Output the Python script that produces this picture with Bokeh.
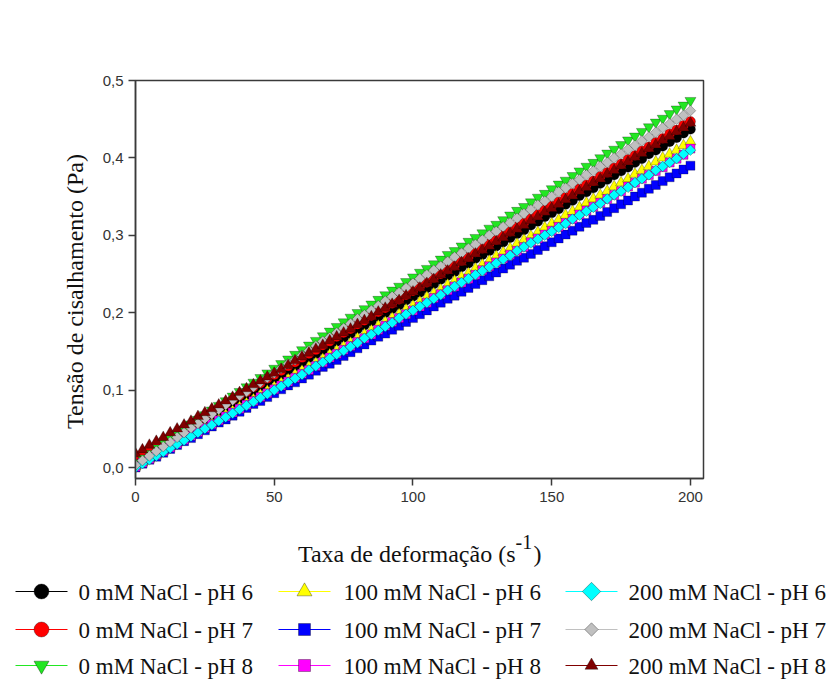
import math

from bokeh.core.properties import value
from bokeh.embed import file_html
from bokeh.layouts import column
from bokeh.models import CustomJSTickFormatter, FixedTicker, Range1d
from bokeh.plotting import figure
from bokeh.resources import INLINE

# Shear rate (1/s), one reading every 2.5 s^-1
shear_rate = [
    0.0, 2.5, 5.0, 7.5, 10.0, 12.5, 15.0, 17.5, 20.0, 22.5,
    25.0, 27.5, 30.0, 32.5, 35.0, 37.5, 40.0, 42.5, 45.0, 47.5,
    50.0, 52.5, 55.0, 57.5, 60.0, 62.5, 65.0, 67.5, 70.0, 72.5,
    75.0, 77.5, 80.0, 82.5, 85.0, 87.5, 90.0, 92.5, 95.0, 97.5,
    100.0, 102.5, 105.0, 107.5, 110.0, 112.5, 115.0, 117.5, 120.0, 122.5,
    125.0, 127.5, 130.0, 132.5, 135.0, 137.5, 140.0, 142.5, 145.0, 147.5,
    150.0, 152.5, 155.0, 157.5, 160.0, 162.5, 165.0, 167.5, 170.0, 172.5,
    175.0, 177.5, 180.0, 182.5, 185.0, 187.5, 190.0, 192.5, 195.0, 197.5,
    200.0,
]

# Shear stress (Pa) for each NaCl concentration / pH
stress_0mM_ph6 = [
    0.010, 0.015, 0.021, 0.026, 0.031, 0.037, 0.042, 0.047, 0.052, 0.058,
    0.063, 0.068, 0.073, 0.079, 0.084, 0.089, 0.094, 0.099, 0.105, 0.110,
    0.115, 0.120, 0.126, 0.131, 0.136, 0.142, 0.147, 0.152, 0.157, 0.163,
    0.168, 0.173, 0.179, 0.184, 0.189, 0.195, 0.200, 0.205, 0.210, 0.216,
    0.221, 0.226, 0.232, 0.237, 0.243, 0.248, 0.253, 0.259, 0.264, 0.270,
    0.275, 0.280, 0.286, 0.291, 0.297, 0.302, 0.307, 0.313, 0.318, 0.324,
    0.329, 0.334, 0.340, 0.345, 0.351, 0.356, 0.361, 0.367, 0.372, 0.378,
    0.383, 0.388, 0.394, 0.399, 0.405, 0.410, 0.415, 0.421, 0.426, 0.432,
    0.437,
]
stress_0mM_ph7 = [
    0.012, 0.017, 0.023, 0.028, 0.034, 0.039, 0.044, 0.050, 0.055, 0.061,
    0.066, 0.071, 0.077, 0.082, 0.088, 0.093, 0.098, 0.104, 0.109, 0.115,
    0.120, 0.125, 0.131, 0.136, 0.142, 0.147, 0.152, 0.158, 0.163, 0.169,
    0.174, 0.179, 0.185, 0.190, 0.196, 0.201, 0.206, 0.212, 0.217, 0.223,
    0.228, 0.234, 0.239, 0.245, 0.250, 0.256, 0.261, 0.267, 0.272, 0.278,
    0.283, 0.289, 0.294, 0.300, 0.305, 0.311, 0.316, 0.322, 0.327, 0.333,
    0.338, 0.343, 0.349, 0.354, 0.360, 0.365, 0.370, 0.376, 0.381, 0.387,
    0.392, 0.398, 0.403, 0.409, 0.414, 0.420, 0.425, 0.431, 0.436, 0.442,
    0.447,
]
stress_0mM_ph8 = [
    0.006, 0.012, 0.018, 0.025, 0.031, 0.037, 0.043, 0.049, 0.056, 0.062,
    0.068, 0.074, 0.080, 0.086, 0.092, 0.098, 0.104, 0.110, 0.116, 0.122,
    0.128, 0.134, 0.140, 0.146, 0.152, 0.158, 0.164, 0.170, 0.176, 0.182,
    0.188, 0.194, 0.200, 0.205, 0.211, 0.217, 0.223, 0.229, 0.234, 0.240,
    0.246, 0.252, 0.257, 0.263, 0.269, 0.275, 0.280, 0.286, 0.292, 0.297,
    0.303, 0.309, 0.314, 0.320, 0.326, 0.332, 0.337, 0.343, 0.349, 0.354,
    0.360, 0.366, 0.371, 0.377, 0.383, 0.389, 0.394, 0.400, 0.406, 0.411,
    0.417, 0.423, 0.428, 0.434, 0.440, 0.446, 0.451, 0.457, 0.463, 0.468,
    0.474,
]
stress_100mM_ph6 = [
    0.001, 0.006, 0.011, 0.016, 0.021, 0.027, 0.032, 0.037, 0.042, 0.047,
    0.052, 0.057, 0.062, 0.068, 0.073, 0.078, 0.083, 0.088, 0.094, 0.099,
    0.104, 0.109, 0.114, 0.120, 0.125, 0.130, 0.135, 0.140, 0.146, 0.151,
    0.156, 0.161, 0.167, 0.172, 0.177, 0.183, 0.188, 0.193, 0.198, 0.204,
    0.209, 0.214, 0.220, 0.225, 0.230, 0.236, 0.241, 0.246, 0.251, 0.257,
    0.262, 0.267, 0.273, 0.278, 0.283, 0.289, 0.294, 0.299, 0.304, 0.310,
    0.315, 0.320, 0.326, 0.331, 0.336, 0.342, 0.347, 0.352, 0.357, 0.363,
    0.368, 0.373, 0.379, 0.384, 0.389, 0.395, 0.400, 0.405, 0.410, 0.416,
    0.421,
]
stress_100mM_ph7 = [
    0.000, 0.005, 0.010, 0.014, 0.019, 0.024, 0.029, 0.034, 0.038, 0.043,
    0.048, 0.053, 0.058, 0.062, 0.067, 0.072, 0.077, 0.082, 0.086, 0.091,
    0.096, 0.101, 0.106, 0.110, 0.115, 0.120, 0.125, 0.130, 0.134, 0.139,
    0.144, 0.149, 0.154, 0.159, 0.164, 0.169, 0.173, 0.178, 0.183, 0.188,
    0.193, 0.198, 0.203, 0.208, 0.213, 0.218, 0.222, 0.227, 0.232, 0.237,
    0.242, 0.247, 0.252, 0.257, 0.262, 0.267, 0.271, 0.276, 0.281, 0.286,
    0.291, 0.296, 0.301, 0.306, 0.311, 0.316, 0.320, 0.325, 0.330, 0.335,
    0.340, 0.345, 0.350, 0.355, 0.360, 0.365, 0.370, 0.375, 0.380, 0.385,
    0.390,
]
stress_100mM_ph8 = [
    0.001, 0.006, 0.011, 0.016, 0.021, 0.026, 0.031, 0.036, 0.041, 0.046,
    0.051, 0.056, 0.061, 0.066, 0.071, 0.076, 0.081, 0.086, 0.091, 0.096,
    0.101, 0.106, 0.111, 0.116, 0.121, 0.126, 0.131, 0.136, 0.142, 0.147,
    0.152, 0.157, 0.162, 0.167, 0.172, 0.178, 0.183, 0.188, 0.193, 0.198,
    0.203, 0.208, 0.213, 0.219, 0.224, 0.229, 0.234, 0.239, 0.244, 0.249,
    0.255, 0.260, 0.265, 0.270, 0.275, 0.280, 0.285, 0.291, 0.296, 0.301,
    0.306, 0.311, 0.316, 0.321, 0.327, 0.332, 0.337, 0.342, 0.347, 0.352,
    0.357, 0.363, 0.368, 0.373, 0.378, 0.383, 0.388, 0.394, 0.399, 0.404,
    0.412,
]
stress_200mM_ph6 = [
    0.000, 0.005, 0.010, 0.015, 0.020, 0.025, 0.030, 0.035, 0.040, 0.045,
    0.050, 0.055, 0.060, 0.065, 0.070, 0.075, 0.080, 0.085, 0.090, 0.095,
    0.100, 0.105, 0.110, 0.115, 0.120, 0.126, 0.131, 0.136, 0.141, 0.146,
    0.151, 0.156, 0.161, 0.167, 0.172, 0.177, 0.182, 0.187, 0.193, 0.198,
    0.203, 0.208, 0.213, 0.218, 0.223, 0.229, 0.234, 0.239, 0.244, 0.249,
    0.254, 0.259, 0.264, 0.269, 0.274, 0.280, 0.285, 0.290, 0.295, 0.300,
    0.305, 0.310, 0.315, 0.321, 0.326, 0.331, 0.336, 0.341, 0.347, 0.352,
    0.357, 0.362, 0.368, 0.373, 0.378, 0.384, 0.389, 0.394, 0.399, 0.405,
    0.410,
]
stress_200mM_ph7 = [
    0.003, 0.009, 0.015, 0.021, 0.027, 0.033, 0.039, 0.045, 0.051, 0.057,
    0.063, 0.069, 0.075, 0.081, 0.087, 0.093, 0.098, 0.104, 0.110, 0.116,
    0.122, 0.128, 0.134, 0.139, 0.145, 0.151, 0.157, 0.163, 0.168, 0.174,
    0.180, 0.186, 0.192, 0.197, 0.203, 0.209, 0.215, 0.221, 0.226, 0.232,
    0.238, 0.244, 0.249, 0.255, 0.260, 0.266, 0.272, 0.277, 0.283, 0.288,
    0.294, 0.300, 0.305, 0.311, 0.316, 0.322, 0.328, 0.333, 0.339, 0.344,
    0.350, 0.356, 0.361, 0.367, 0.372, 0.378, 0.383, 0.389, 0.394, 0.400,
    0.405, 0.411, 0.416, 0.422, 0.427, 0.433, 0.439, 0.444, 0.450, 0.455,
    0.461,
]
stress_200mM_ph8 = [
    0.018, 0.023, 0.029, 0.034, 0.039, 0.045, 0.050, 0.055, 0.060, 0.066,
    0.071, 0.076, 0.081, 0.086, 0.091, 0.097, 0.102, 0.107, 0.112, 0.117,
    0.122, 0.127, 0.132, 0.138, 0.143, 0.148, 0.153, 0.158, 0.164, 0.169,
    0.174, 0.179, 0.185, 0.190, 0.195, 0.201, 0.206, 0.211, 0.216, 0.222,
    0.227, 0.232, 0.238, 0.243, 0.249, 0.254, 0.259, 0.265, 0.270, 0.276,
    0.281, 0.286, 0.292, 0.297, 0.303, 0.308, 0.313, 0.319, 0.324, 0.330,
    0.335, 0.340, 0.346, 0.351, 0.357, 0.362, 0.368, 0.373, 0.379, 0.384,
    0.390, 0.395, 0.401, 0.406, 0.412, 0.417, 0.423, 0.428, 0.434, 0.439,
    0.445,
]

series_names = [
    "0 mM NaCl - pH 6", "0 mM NaCl - pH 7", "0 mM NaCl - pH 8",
    "100 mM NaCl - pH 6", "100 mM NaCl - pH 7", "100 mM NaCl - pH 8",
    "200 mM NaCl - pH 6", "200 mM NaCl - pH 7", "200 mM NaCl - pH 8",
]
series_values = [
    stress_0mM_ph6, stress_0mM_ph7, stress_0mM_ph8,
    stress_100mM_ph6, stress_100mM_ph7, stress_100mM_ph8,
    stress_200mM_ph6, stress_200mM_ph7, stress_200mM_ph8,
]
x_ticks = [0, 50, 100, 150, 200]
y_ticks = [0.0, 0.1, 0.2, 0.3, 0.4, 0.5]

# marker styling: (fill colour, marker, plot size, key size, angle)
styles = [
    ("#000000", "circle", 10, 15, 0.0),
    ("#ff0000", "circle", 10, 15, 0.0),
    ("#22e622", "inverted_triangle", 11, 15, 0.0),
    ("#ffff00", "triangle", 11, 15, 0.0),
    ("#0000ff", "square", 9, 12, 0.0),
    ("#ff00ff", "square", 9, 12, 0.0),
    ("#00ffff", "square", 7.5, 13, math.pi / 4),
    ("#c0c0c0", "square", 7.5, 9.5, math.pi / 4),
    ("#800000", "triangle", 11, 13, 0.0),
]
line_colours = ["#000000", "#ff0000", "#22e622", "#ffff00", "#0000ff",
                "#ff00ff", "#00ffff", "#c0c0c0", "#800000"]

SERIF = "Liberation Serif"
SANS = "Liberation Sans"
FRAME = "#3a3a3a"
TEXT = "#111111"
NBSP = "\u00a0"

# ---------------- main chart ----------------
p = figure(
    width=827, height=520,
    x_range=Range1d(0, 204.7), y_range=Range1d(-0.0142, 0.5),
    output_backend="svg", toolbar_location=None,
    min_border_left=135, min_border_right=124,
    min_border_top=80, min_border_bottom=42,
    background_fill_color="white", border_fill_color="white",
    frame_align=False,
)
p.grid.visible = False
p.outline_line_color = FRAME
p.outline_line_width = 1.5

for ax in (p.xaxis[0], p.yaxis[0]):
    ax.axis_line_color = FRAME
    ax.axis_line_width = 1.5
    ax.major_tick_line_color = FRAME
    ax.major_tick_line_width = 1.5
    ax.major_tick_in = 0
    ax.major_tick_out = 7
    ax.minor_tick_line_color = None
    ax.major_label_text_font = SANS
    ax.major_label_text_font_size = "15px"
    ax.major_label_text_color = "#333333"

p.xaxis[0].ticker = FixedTicker(ticks=x_ticks)
p.yaxis[0].ticker = FixedTicker(ticks=y_ticks)
p.xaxis[0].major_label_standoff = 6
p.yaxis[0].major_label_standoff = 5
p.yaxis[0].formatter = CustomJSTickFormatter(
    code="return tick.toFixed(1).replace('.', ',');")

# trailing no-break spaces nudge the centred title a little downwards
p.yaxis[0].axis_label = "Tensão de cisalhamento (Pa)" + NBSP * 4
p.yaxis[0].axis_label_text_font = SERIF
p.yaxis[0].axis_label_text_font_style = "normal"
p.yaxis[0].axis_label_text_font_size = "24px"
p.yaxis[0].axis_label_text_color = TEXT
p.yaxis[0].axis_label_standoff = 12

for vals, (fill, marker, size, _, angle), lc in zip(series_values, styles, line_colours):
    p.line(shear_rate, vals, line_color=lc, line_width=1)
    p.scatter(shear_rate, vals, marker=marker, size=size, angle=angle,
              fill_color=fill, line_color="#000000", line_width=0.5,
              line_alpha=0.55)

# ---------------- x title and key below ----------------
lg = figure(
    width=827, height=160,
    x_range=Range1d(0, 827), y_range=Range1d(160, 0),
    output_backend="svg", toolbar_location=None,
    x_axis_location=None, y_axis_location=None,
    min_border=0, outline_line_color=None,
    background_fill_color="white", border_fill_color="white",
    frame_align=False,
)
lg.grid.visible = False

lg.text(x=[515], y=[33], text=["Taxa de deformação (s"],
        text_font=value(SERIF), text_font_size="24px", text_color=TEXT,
        text_align="right", text_baseline="alphabetic")
lg.text(x=[515], y=[21], text=["-1"],
        text_font=value(SERIF), text_font_size="20px", text_color=TEXT,
        text_align="left", text_baseline="alphabetic")
lg.text(x=[533], y=[33], text=[")"],
        text_font=value(SERIF), text_font_size="24px", text_color=TEXT,
        text_align="left", text_baseline="alphabetic")

col_line_start = [15, 278, 565]
col_line_end = [67, 330, 617]
col_marker = [41, 304, 591]
col_text = [78, 343, 628]
row_y = [71, 109, 145]

for i, (name, (fill, marker, _, ksize, angle), lc) in enumerate(
        zip(series_names, styles, line_colours)):
    c, r = divmod(i, 3)
    y = row_y[r]
    lg.segment(x0=[col_line_start[c]], y0=[y], x1=[col_line_end[c]], y1=[y],
               line_color=lc, line_width=1)
    lg.scatter(x=[col_marker[c]], y=[y], marker=marker, size=ksize, angle=angle,
               fill_color=fill, line_color="#000000", line_width=0.6,
               line_alpha=0.55)
    lg.text(x=[col_text[c]], y=[y + 1], text=[name],
            text_font=value(SERIF), text_font_size="23px", text_color=TEXT,
            text_align="left", text_baseline="middle")

layout = column(p, lg, spacing=0)
open("out.html", "w").write(file_html(layout, INLINE))
